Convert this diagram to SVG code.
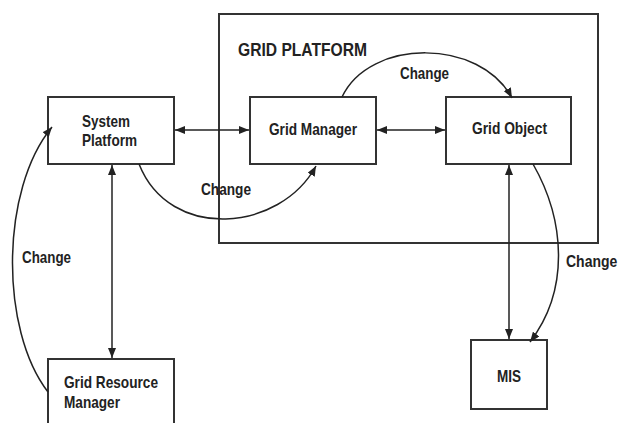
<svg xmlns="http://www.w3.org/2000/svg" width="622" height="423" viewBox="0 0 622 423">
<defs>
<marker id="ah" viewBox="0 0 10 8" refX="10" refY="4" markerWidth="10" markerHeight="8" markerUnits="userSpaceOnUse" orient="auto-start-reverse">
<path d="M0,0 L10,4 L0,8 Z" fill="#222"/>
</marker>
</defs>
<style>
.box{fill:#fff;stroke:#333;stroke-width:2}
.frame{fill:none;stroke:#333;stroke-width:2}
.lbl{font-family:"Liberation Sans",Arial,sans-serif;font-weight:bold;font-size:17px;fill:#222}
.title{font-family:"Liberation Sans",Arial,sans-serif;font-weight:bold;font-size:18px;fill:#222}
.con{fill:none;stroke:#222;stroke-width:1.5}
</style>
<rect width="622" height="423" fill="#fff"/>
<g id="grid-platform">
<rect class="frame" x="219" y="14" width="379" height="229"/>
<text class="title" x="238" y="56" textLength="129" lengthAdjust="spacingAndGlyphs">GRID PLATFORM</text>
</g>
<g id="system-platform">
<rect class="box" x="48" y="97" width="126" height="67"/>
<text class="lbl" x="82" y="127" textLength="48" lengthAdjust="spacingAndGlyphs">System</text>
<text class="lbl" x="82" y="146" textLength="55" lengthAdjust="spacingAndGlyphs">Platform</text>
</g>
<g id="grid-manager">
<rect class="box" x="250" y="97" width="126" height="67"/>
<text class="lbl" x="269" y="135" textLength="88" lengthAdjust="spacingAndGlyphs">Grid Manager</text>
</g>
<g id="grid-object">
<rect class="box" x="446" y="97" width="125" height="67"/>
<text class="lbl" x="472" y="134" textLength="75" lengthAdjust="spacingAndGlyphs">Grid Object</text>
</g>
<g id="grid-resource-manager">
<rect class="box" x="48" y="359" width="126" height="75"/>
<text class="lbl" x="64" y="388" textLength="94" lengthAdjust="spacingAndGlyphs">Grid Resource</text>
<text class="lbl" x="64" y="408" textLength="56" lengthAdjust="spacingAndGlyphs">Manager</text>
</g>
<g id="mis">
<rect class="box" x="471" y="340" width="76" height="69"/>
<text class="lbl" x="497" y="382" textLength="24" lengthAdjust="spacingAndGlyphs">MIS</text>
</g>
<g id="connectors">
<line class="con" x1="175" y1="130" x2="249" y2="130" marker-start="url(#ah)" marker-end="url(#ah)"/>
<line class="con" x1="377" y1="130" x2="445" y2="130" marker-start="url(#ah)" marker-end="url(#ah)"/>
<line class="con" x1="112" y1="165" x2="112" y2="358" marker-start="url(#ah)" marker-end="url(#ah)"/>
<line class="con" x1="509" y1="165" x2="509" y2="339" marker-start="url(#ah)" marker-end="url(#ah)"/>
<path class="con" d="M139,164 C170,242 280,232 316,166" marker-end="url(#ah)"/>
<path class="con" d="M342,97 C370,38 480,38 512,98" marker-end="url(#ah)"/>
<path class="con" d="M533,164 C565,220 570,290 530,342" marker-end="url(#ah)"/>
<path class="con" d="M48,392 C0,330 0,190 52,127" marker-end="url(#ah)"/>
<text class="lbl" x="201" y="195" textLength="50" lengthAdjust="spacingAndGlyphs">Change</text>
<text class="lbl" x="400" y="79" textLength="49" lengthAdjust="spacingAndGlyphs">Change</text>
<text class="lbl" style="font-size:14px" transform="translate(566,267) scale(1,1.2)">Change</text>
<text class="lbl" x="22" y="263" textLength="49" lengthAdjust="spacingAndGlyphs">Change</text>
</g>
</svg>
